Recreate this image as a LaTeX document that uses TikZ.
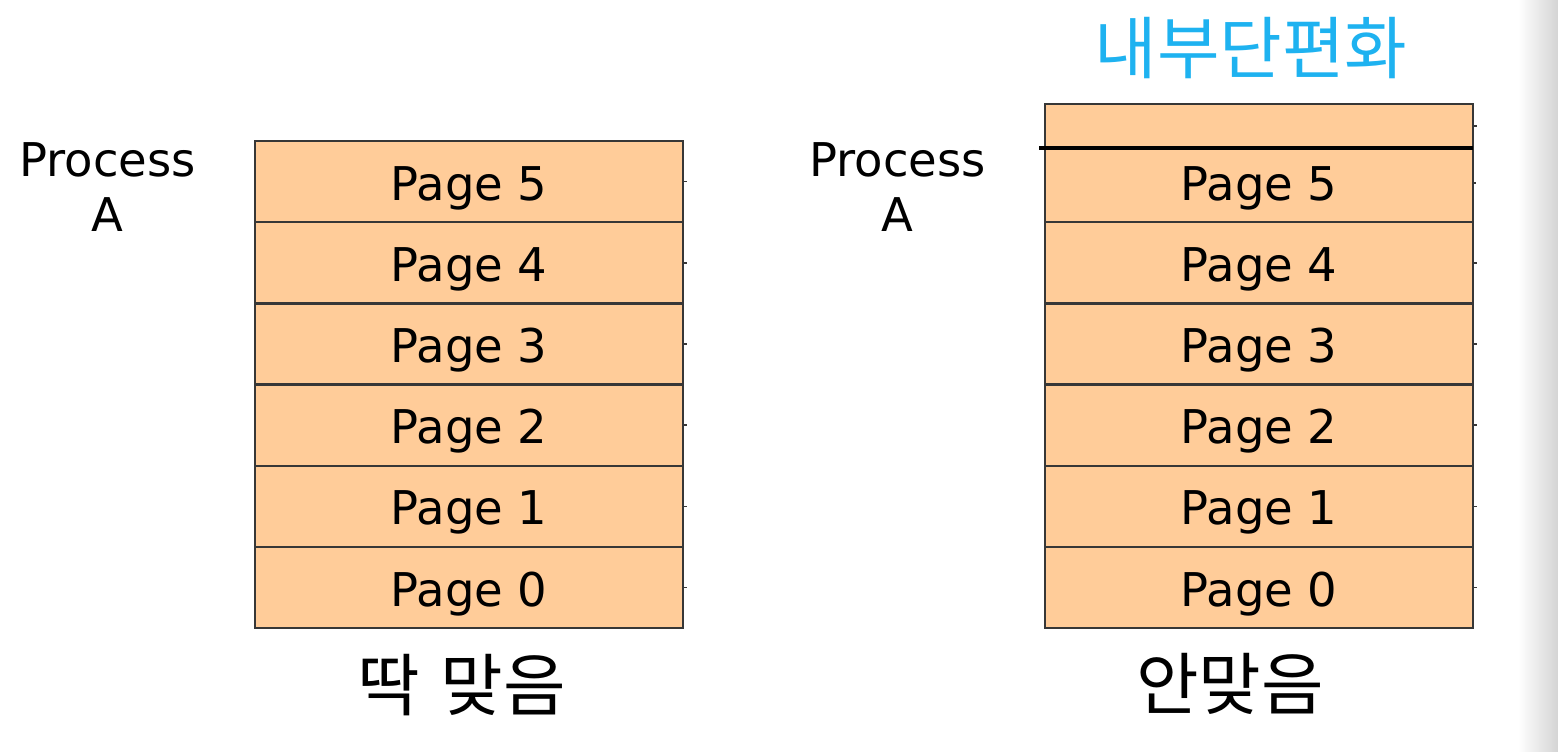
\documentclass[tikz,border=0pt]{standalone}
\usepackage{fontspec}
\setmainfont{DejaVu Sans}
\newfontfamily\kor{Noto Sans CJK KR}
\definecolor{peach}{RGB}{255,204,153}
\definecolor{edge}{RGB}{55,55,55}
\definecolor{cyantxt}{RGB}{30,178,240}
\definecolor{shadow}{RGB}{212,212,212}
\begin{document}
\begin{tikzpicture}[x=1pt,y=-1pt,
  pagebox/.style={draw=edge,line width=2.3pt,fill=peach,minimum width=428pt,minimum height=81.2pt,inner sep=0pt,text height=36.8pt,text depth=0pt,font=\fontsize{46.5}{55}\selectfont},
  toprow/.style={draw=edge,line width=2.3pt,fill=peach,minimum width=428pt,minimum height=44pt,inner sep=0pt},
  proclabel/.style={align=center,font=\fontsize{46.5}{55}\selectfont,inner sep=0pt},
  korlabel/.style={font=\kor\fontsize{68}{72}\selectfont,inner sep=0pt},
  tick/.style={draw=edge,line width=1.5pt}]
\useasboundingbox (0,0) rectangle (1558,752);
\shade[left color=white,right color=shadow] (1518,0) rectangle (1558,752);
% left stack
\foreach \i/\n in {0/5,1/4,2/3,3/2,4/1,5/0}{
  \node[pagebox] (L\n) at (469,181.6+81.2*\i) {Page \n};
  \draw[tick] (L\n.east) -- ++(2.5,0);
}
% right stack
\foreach \i/\n in {0/5,1/4,2/3,3/2,4/1,5/0}{
  \node[pagebox] (R\n) at (1259,181.6+81.2*\i) {Page \n};
}
\foreach \n in {4,3,2,1,0}{ \draw[tick] (R\n.east) -- ++(2.5,0); }
\node[toprow] (RT) at (1259,126) {};
\coordinate (RTl) at (1039,148);
\coordinate (RTr) at (1473,148);
\draw[black,line width=3.2pt] (RTl) -- (RTr);
\draw[tick] (RT.east) -- ++(2.5,0);
\draw[tick] (1473,183) -- ++(2.5,0);
% labels
\node[proclabel] (PA) at (107.5,187) {Process\\A};
\node[proclabel] (PB) at (897.5,187) {Process\\A};
\node[korlabel,text=cyantxt] (frag) at (1251,48) {내부단편화};
\node[korlabel] (fit) at (462,685) {딱\hspace{0.3em}맞음};
\node[korlabel] (nofit) at (1230,684) {안맞음};
\end{tikzpicture}
\end{document}
